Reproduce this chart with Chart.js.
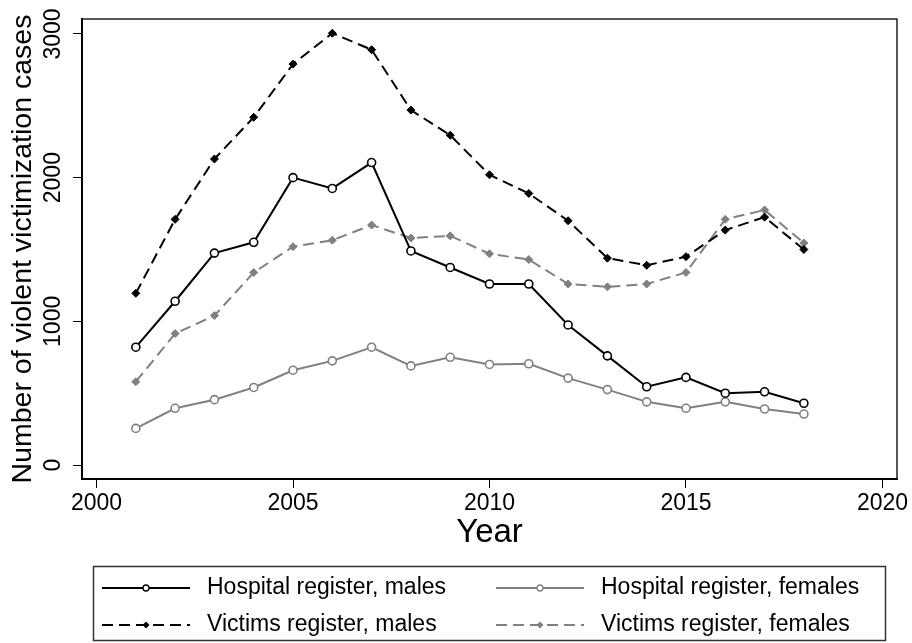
<!DOCTYPE html>
<html>
<head>
<meta charset="utf-8">
<title>Violent victimization cases</title>
<script src="https://cdn.jsdelivr.net/npm/chart.js@4"></script>
<style>
  html, body { margin: 0; padding: 0; background: #fff; }
  #chart { display: block; }
</style>
</head>
<body>
<canvas id="chart" width="912" height="643"></canvas>
<script>
// --- data ---
const years = [2001, 2002, 2003, 2004, 2005, 2006, 2007, 2008, 2009, 2010, 2011, 2012, 2013, 2014, 2015, 2016, 2017, 2018];
const hospitalMales = [820, 1140, 1475, 1550, 2000, 1925, 2105, 1490, 1375, 1260, 1260, 975, 760, 545, 610, 500, 510, 430];
const hospitalFemales = [255, 395, 455, 540, 660, 725, 820, 690, 750, 700, 705, 605, 525, 440, 395, 440, 390, 355];
const victimsMales = [1195, 1710, 2130, 2420, 2790, 3005, 2890, 2470, 2295, 2020, 1890, 1700, 1440, 1390, 1450, 1635, 1725, 1500];
const victimsFemales = [580, 915, 1040, 1340, 1520, 1565, 1670, 1580, 1595, 1470, 1430, 1260, 1240, 1260, 1340, 1710, 1775, 1545];
const xTicks = [2000, 2005, 2010, 2015, 2020];
const yTicks = [0, 1000, 2000, 3000];
const seriesNames = [
  "Hospital register, males",
  "Hospital register, females",
  "Victims register, males",
  "Victims register, females",
];

const FONT = "'Liberation Sans', Arial, sans-serif";
const BLACK = "#000000";
const GRAY = "#808080";

function toPoints(values) {
  return years.map((yr, i) => ({ x: yr, y: values[i] }));
}

function lineSet(label, values, color, dashed) {
  return {
    label: label,
    data: toPoints(values),
    borderColor: color,
    borderWidth: 2,
    borderDash: dashed ? [11, 6] : [],
    tension: 0,
    fill: false,
    pointStyle: dashed ? "rectRot" : "circle",
    pointRadius: dashed ? 4 : 4,
    pointBorderWidth: dashed ? 1 : 1.6,
    pointBorderColor: color,
    pointBackgroundColor: dashed ? color : "#ffffff",
  };
}

// frame on top/right + boxed legend below the plot (Stata style)
const frameAndLegend = {
  id: "frameAndLegend",
  afterDraw(chart) {
    const ctx = chart.ctx;
    const a = chart.chartArea;
    ctx.save();

    // top and right border of plot region
    ctx.strokeStyle = "#222";
    ctx.lineWidth = 1.5;
    ctx.beginPath();
    ctx.moveTo(a.left, a.top);
    ctx.lineTo(a.right, a.top);
    ctx.lineTo(a.right, a.bottom);
    ctx.stroke();

    // legend box
    ctx.strokeStyle = "#333";
    ctx.lineWidth = 1.5;
    ctx.strokeRect(93.5, 566.5, 792, 74);

    const colX = [102, 496];
    const rowY = [588, 625];
    ctx.font = "23px " + FONT;
    ctx.textBaseline = "middle";
    ctx.textAlign = "left";

    chart.data.datasets.forEach((ds, i) => {
      const sx = colX[i % 2];
      const sy = rowY[Math.floor(i / 2)];
      const dashed = ds.borderDash.length > 0;

      ctx.strokeStyle = ds.borderColor;
      ctx.lineWidth = 2;
      ctx.setLineDash(ds.borderDash);
      ctx.beginPath();
      ctx.moveTo(sx, sy);
      ctx.lineTo(sx + 88, sy);
      ctx.stroke();
      ctx.setLineDash([]);

      const mx = sx + 44;
      ctx.beginPath();
      if (dashed) {
        const r = 3.5;
        ctx.moveTo(mx - r, sy);
        ctx.lineTo(mx, sy - r);
        ctx.lineTo(mx + r, sy);
        ctx.lineTo(mx, sy + r);
        ctx.closePath();
        ctx.fillStyle = ds.borderColor;
        ctx.fill();
      } else {
        ctx.arc(mx, sy, 3, 0, Math.PI * 2);
        ctx.fillStyle = "#ffffff";
        ctx.fill();
        ctx.lineWidth = 1.3;
        ctx.stroke();
      }

      ctx.fillStyle = BLACK;
      ctx.fillText(ds.label, sx + 105, sy);
    });

    ctx.restore();
  },
};

const chart = new Chart(document.getElementById("chart"), {
  type: "line",
  data: {
    datasets: [
      lineSet(seriesNames[0], hospitalMales, BLACK, false),
      lineSet(seriesNames[1], hospitalFemales, GRAY, false),
      lineSet(seriesNames[2], victimsMales, BLACK, true),
      lineSet(seriesNames[3], victimsFemales, GRAY, true),
    ],
  },
  options: {
    responsive: false,
    animation: false,
    layout: {
      padding: { top: 19, right: 15, bottom: 84, left: 0 },
    },
    plugins: {
      legend: { display: false },
      title: { display: false },
      tooltip: { enabled: false },
    },
    scales: {
      x: {
        type: "linear",
        min: 1999.63,
        max: 2020.37,
        afterBuildTicks: (scale) => {
          scale.ticks = xTicks.map((v) => ({ value: v }));
        },
        afterFit: (scale) => {
          scale.height = 80;
        },
        grid: {
          drawOnChartArea: false,
          drawTicks: true,
          tickLength: 9,
          tickColor: BLACK,
          lineWidth: 1,
        },
        border: { display: true, color: BLACK, width: 2 },
        ticks: {
          autoSkip: false,
          maxRotation: 0,
          padding: 2,
          color: BLACK,
          font: { family: FONT, size: 23 },
          callback: (v) => String(v),
        },
        title: {
          display: true,
          text: "Year",
          color: BLACK,
          font: { family: FONT, size: 33 },
          padding: { top: 0, bottom: 6 },
        },
      },
      y: {
        type: "linear",
        min: -97,
        max: 3104,
        afterBuildTicks: (scale) => {
          scale.ticks = yTicks.map((v) => ({ value: v }));
        },
        afterFit: (scale) => {
          scale.width = 82;
        },
        grid: {
          drawOnChartArea: false,
          drawTicks: true,
          tickLength: 9,
          tickColor: BLACK,
          lineWidth: 1,
        },
        border: { display: true, color: BLACK, width: 2 },
        ticks: {
          autoSkip: false,
          minRotation: 90,
          maxRotation: 90,
          crossAlign: "center",
          padding: -6,
          color: BLACK,
          font: { family: FONT, size: 23 },
          callback: (v) => String(v),
        },
        title: {
          display: true,
          text: "Number of violent victimization cases",
          color: BLACK,
          font: { family: FONT, size: 28.5 },
          padding: { top: 6, bottom: 0 },
        },
      },
    },
  },
  plugins: [frameAndLegend],
});
</script>
</body>
</html>
